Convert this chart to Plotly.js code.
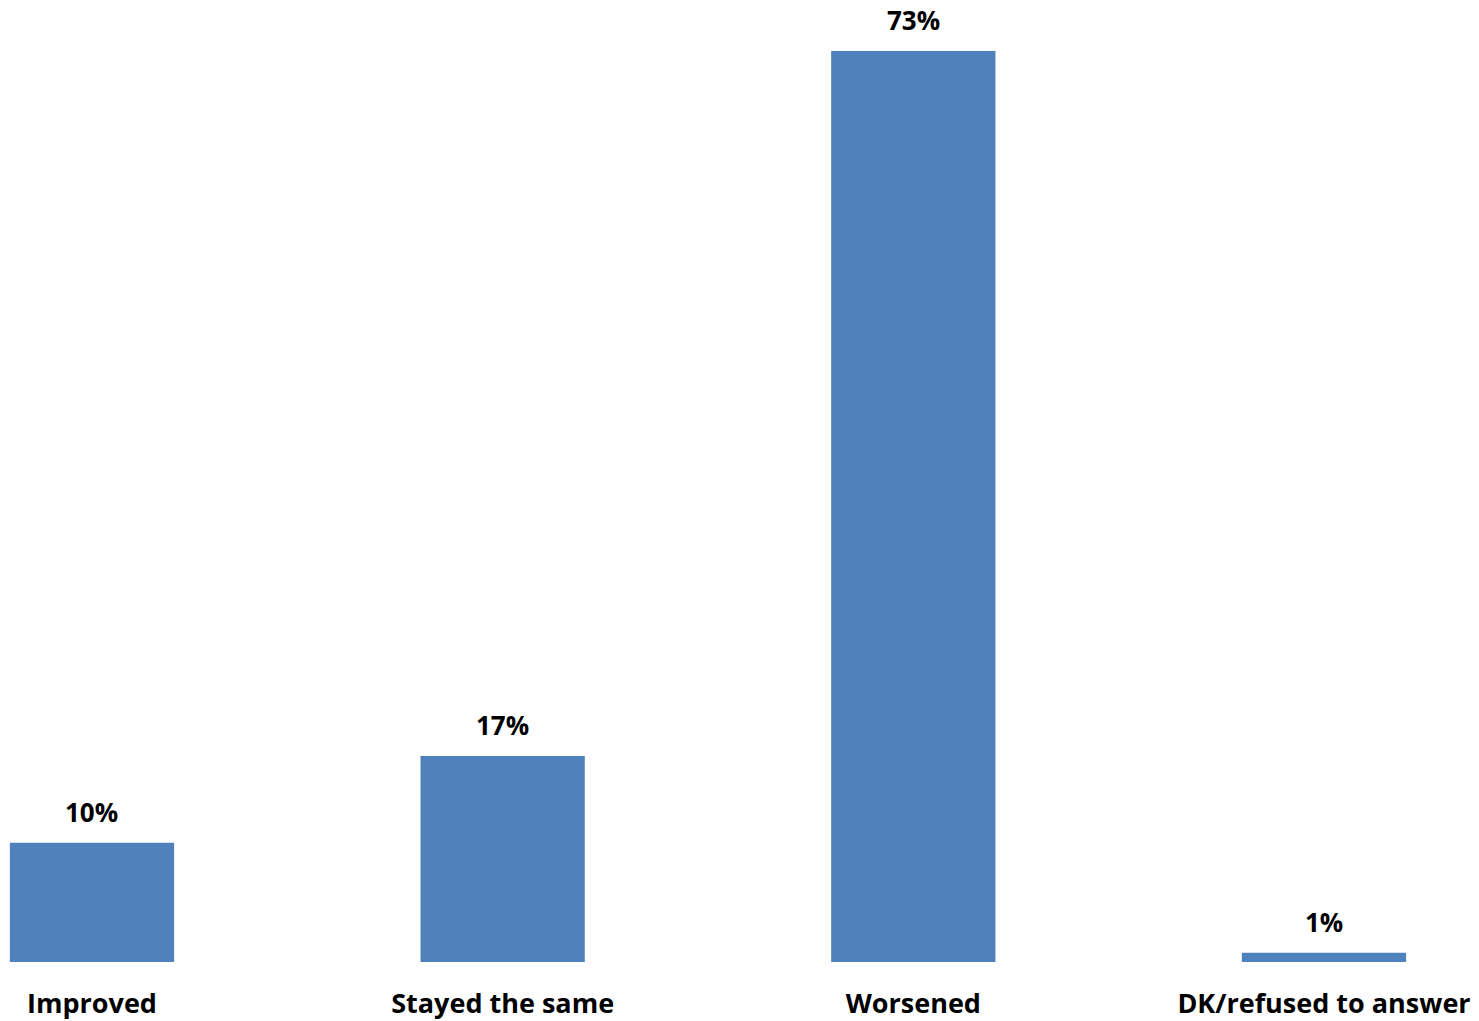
<!DOCTYPE html>
<html>
<head>
<meta charset="utf-8">
<script src="https://cdn.plot.ly/plotly-3.0.1.min.js"></script>
<style>html,body{margin:0;padding:0;background:#fff;}#chart{width:1479px;height:1021px;}</style>
</head>
<body>
<div id="chart"></div>
<script>
const categories = ["Improved", "Stayed the same", "Worsened", "DK/refused to answer"];
const values = [9.55, 16.5, 73, 0.75];
const labels = ["10%", "17%", "73%", "1%"];

const positions = categories.map((c, i) => i);
const FONT = "Open Sans, Liberation Sans, sans-serif";

const trace = {
  type: "bar",
  x: positions,
  y: values,
  width: 0.4,
  marker: {color: "#4F81BD"},
  hoverinfo: "skip"
};

const annotations = positions.map((p, i) => ({
  x: p, y: values[i], xref: "x", yref: "y",
  text: "<b>" + labels[i] + "</b>",
  showarrow: false, yanchor: "bottom", yshift: 11,
  font: {family: FONT, size: 26, color: "#000"}
}));

const layout = {
  width: 1479, height: 1021,
  margin: {l: 0, r: 0, t: 0, b: 59},
  paper_bgcolor: "#fff", plot_bgcolor: "#fff",
  showlegend: false,
  xaxis: {
    range: [-0.224, 3.3775],
    tickvals: positions,
    ticktext: categories.map(c => "<b>" + c + "</b>"),
    tickfont: {family: FONT, size: 27, color: "#000"},
    ticklabelstandoff: 23,
    showgrid: false, zeroline: false, showline: false, ticks: "", ticklen: 0
  },
  yaxis: {
    range: [0, 77.08],
    visible: false, showgrid: false, zeroline: false
  },
  annotations: annotations
};

Plotly.newPlot("chart", [trace], layout, {displayModeBar: false, staticPlot: true});
</script>
</body>
</html>
